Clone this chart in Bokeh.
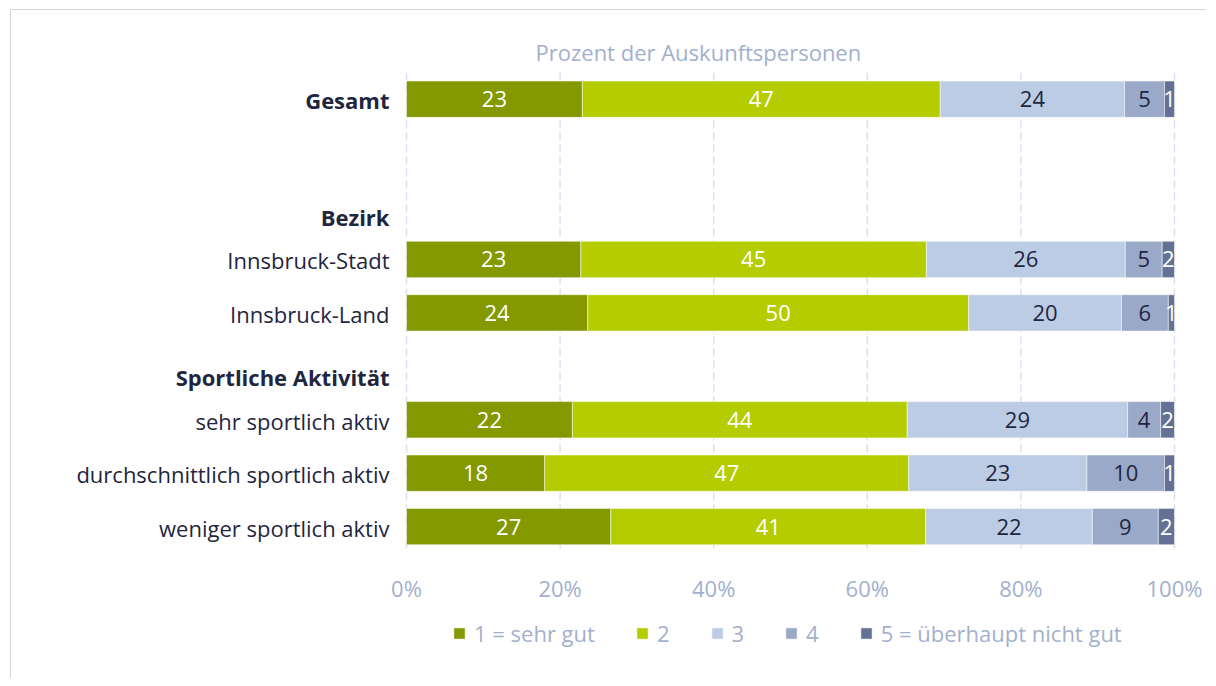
from bokeh.plotting import figure
from bokeh.models import ColumnDataSource, Range1d, Legend, LegendItem
from bokeh.core.properties import value
from bokeh.embed import file_html
from bokeh.resources import INLINE

# ---- data ----
rows = ["Gesamt", "", "Bezirk", "Innsbruck-Stadt", "Innsbruck-Land",
        "Sportliche Aktivität", "sehr sportlich aktiv",
        "durchschnittlich sportlich aktiv", "weniger sportlich aktiv"]
bold_rows = ["Gesamt", "Bezirk", "Sportliche Aktivität"]
header_rows = ["Bezirk", "Sportliche Aktivität"]
bar_rows = ["Gesamt", "Innsbruck-Stadt", "Innsbruck-Land", "sehr sportlich aktiv",
            "durchschnittlich sportlich aktiv", "weniger sportlich aktiv"]
s1 = [22.9, 22.7, 23.6, 21.6, 18.0, 26.6]
s2 = [46.6, 45.0, 49.6, 43.6, 47.4, 41.0]
s3 = [24.0, 25.9, 19.9, 28.7, 23.2, 21.7]
s4 = [5.2, 4.8, 6.1, 4.3, 10.1, 8.6]
s5 = [1.3, 1.6, 0.8, 1.8, 1.3, 2.1]
series_names = ["1 = sehr gut", "2", "3", "4", "5 = überhaupt nicht gut"]
x_ticks = [0, 20, 40, 60, 80, 100]
title_text = "Prozent der Auskunftspersonen"

# ---- styles ----
colors = ["#849800", "#b5cd00", "#bdcce5", "#9aa9c8", "#637294"]
label_colors = ["white", "white", "#1f2640", "#1f2640", "white"]
FONT = "Open Sans"
FS = "22px"
muted = "#a3b0cc"
dark = "#1f2640"
grid_top, grid_bottom = -0.5, 8.41   # extent of the plotting band in row units

series = [s1, s2, s3, s4, s5]
keys = ["s1", "s2", "s3", "s4", "s5"]
ys = [rows.index(r) for r in bar_rows]
src = ColumnDataSource(dict(y=ys, **{k: v for k, v in zip(keys, series)}))

p = figure(frame_width=1176, frame_height=606,
           min_border_left=19, min_border_right=0, min_border_top=62, min_border_bottom=0,
           x_range=Range1d(-48.96, 104.17), y_range=Range1d(10.844, grid_top),
           output_backend="svg", toolbar_location=None,
           x_axis_location=None, y_axis_location=None,
           title=title_text)
p.styles = {"margin": "9px 0px 0px 10px",
            "border-top": "1px solid #d6d6d6", "border-left": "1px solid #d6d6d6"}
p.outline_line_color = None
p.background_fill_color = "white"
p.border_fill_color = "white"
p.xgrid.grid_line_color = None
p.ygrid.grid_line_color = None

p.title.text_font = FONT
p.title.text_font_size = FS
p.title.text_font_style = "normal"
p.title.text_color = muted
p.title.align = "left"
p.title.offset = 505
p.title.standoff = 11

# vertical dashed grid lines at the x ticks
p.segment(x0=x_ticks, y0=[grid_top] * len(x_ticks), x1=x_ticks, y1=[grid_bottom] * len(x_ticks),
          line_color="#dcdff0", line_dash="8 4", line_width=1.5)

renderers = p.hbar_stack(keys, y="y", height=0.68, color=colors, source=src,
                         line_color="white", line_alpha=0.5, line_width=1)

# segment value labels
for i, k in enumerate(keys):
    lefts = [sum(series[j][n] for j in range(i)) for n in range(len(bar_rows))]
    xs = [l + v / 2 for l, v in zip(lefts, series[i])]
    txt = [f"{round(v):d}" for v in series[i]]
    p.text(x=xs, y=ys, text=txt, text_align="center", text_baseline="middle",
           text_font=value(FONT), text_font_size=FS, text_color=label_colors[i])

# row labels
for r in rows:
    if not r:
        continue
    p.text(x=[0], y=[rows.index(r)], text=[r], x_offset=-17,
           y_offset=11 if r in header_rows else 1,
           text_align="right", text_baseline="middle",
           text_font=value(FONT), text_font_size=FS, text_color=dark,
           text_font_style="bold" if r in bold_rows else "normal")

# x tick labels
p.text(x=x_ticks, y=[grid_bottom] * len(x_ticks), text=[f"{t}%" for t in x_ticks],
       y_offset=40, text_align="center", text_baseline="middle",
       text_font=value(FONT), text_font_size=FS, text_color=muted)

legend = Legend(items=[LegendItem(label=n, renderers=[r]) for n, r in zip(series_names, renderers)],
                orientation="horizontal", location=(422, 30),
                glyph_width=14, glyph_height=14, label_standoff=8, spacing=40, label_width=0,
                label_text_font=FONT, label_text_font_size=FS, label_text_color=muted,
                border_line_color=None, background_fill_alpha=0, padding=0, margin=0)
p.add_layout(legend, "center")

open("out.html", "w").write(file_html(p, INLINE))
